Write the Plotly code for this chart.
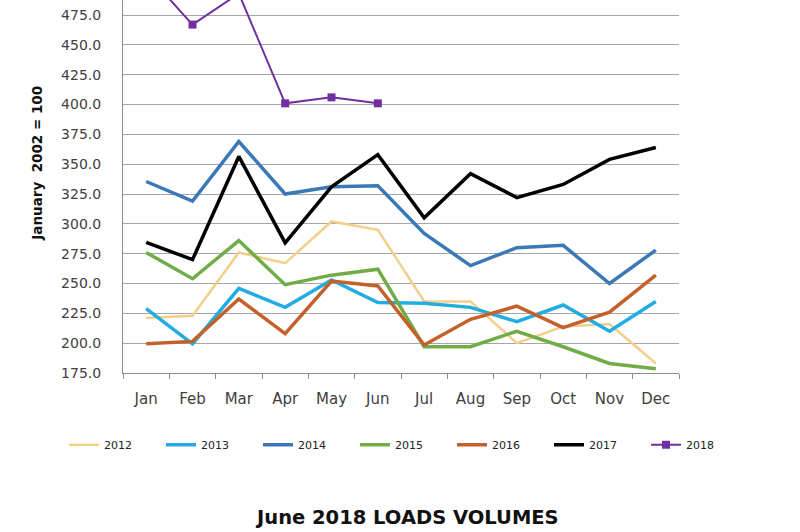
import plotly.graph_objects as go

months = ["Jan", "Feb", "Mar", "Apr", "May", "Jun", "Jul", "Aug", "Sep", "Oct", "Nov", "Dec"]

y2012 = [221, 223, 276, 267, 302, 295, 235, 235, 200, 214, 216, 183]
y2013 = [229, 199.5, 246, 230, 253, 234, 233.5, 230, 218, 232, 210, 235]
y2014 = [335.5, 319, 369, 325, 331, 332, 292, 265, 280, 282, 250, 278]
y2015 = [276, 254, 286, 249, 257, 262, 197, 197, 210, 197, 183, 178.5]
y2016 = [199.5, 201.5, 237, 208, 252, 248, 198.5, 220, 231, 213, 226, 257]
y2017 = [284.5, 270, 356.5, 284, 331, 358, 305, 342, 322, 333, 354, 364]
y2018 = [510, 467, 493, 401, 406, 401]

series = [
    ("2012", y2012, "#F4CF8B", 2.5),
    ("2013", y2013, "#22ADE2", 3.5),
    ("2014", y2014, "#3B78B6", 3.5),
    ("2015", y2015, "#70AD47", 3.5),
    ("2016", y2016, "#C4602A", 3.5),
    ("2017", y2017, "#000000", 3.5),
]

fig = go.Figure()
for name, vals, color, w in series:
    fig.add_trace(go.Scatter(x=months, y=vals, name=name, mode="lines",
                             line=dict(color=color, width=w)))
fig.add_trace(go.Scatter(x=months[:len(y2018)], y=y2018, name="2018", mode="lines+markers",
                         line=dict(color="#7030A0", width=2),
                         marker=dict(symbol="square", size=8, color="#7030A0")))

fig.update_layout(
    width=800, height=532,
    margin=dict(l=123, r=121, t=0, b=158.7),
    plot_bgcolor="white", paper_bgcolor="white",
    font=dict(family="DejaVu Sans", color="#404040"),
    showlegend=True,
    legend=dict(orientation="h", xref="paper", yref="paper",
                x=(64 - 123) / 556, xanchor="left", y=-(445 - 373.3) / 373.3, yanchor="middle",
                font=dict(size=11, color="#222222"),
                entrywidth=52, entrywidthmode="pixels",
                bgcolor="rgba(0,0,0,0)"),
    xaxis=dict(type="category", range=[-0.5, 11.5], showgrid=False,
               showline=True, linecolor="#8C8C8C", linewidth=1,
               ticks="outside", tickson="boundaries", ticklen=5, tickcolor="#8C8C8C",
               tickfont=dict(size=15, color="#404040"), ticklabelstandoff=12),
    yaxis=dict(range=[175, 487.6], tick0=175, dtick=25, tickformat=".1f",
               showgrid=True, gridcolor="#A6A6A6", gridwidth=1,
               showline=True, linecolor="#8C8C8C", linewidth=1,
               ticks="", tickfont=dict(size=14, color="#404040"),
               ticklabelstandoff=18, zeroline=False),
    annotations=[
        dict(text="<b>January\u00a0\u00a02002 = 100</b>", xref="paper", yref="paper",
             x=-0.155, y=1 - 163 / 373.3, xanchor="center", yanchor="middle",
             textangle=-90, showarrow=False, font=dict(size=13.5, color="#111111")),
        dict(text="<b>June 2018 LOADS VOLUMES</b>", xref="paper", yref="paper",
             x=(406.5 - 123) / 556, y=-(518 - 373.3) / 373.3, xanchor="center", yanchor="middle",
             showarrow=False, font=dict(size=19.5, color="#111111")),
    ],
)

fig.write_html("out.html")
